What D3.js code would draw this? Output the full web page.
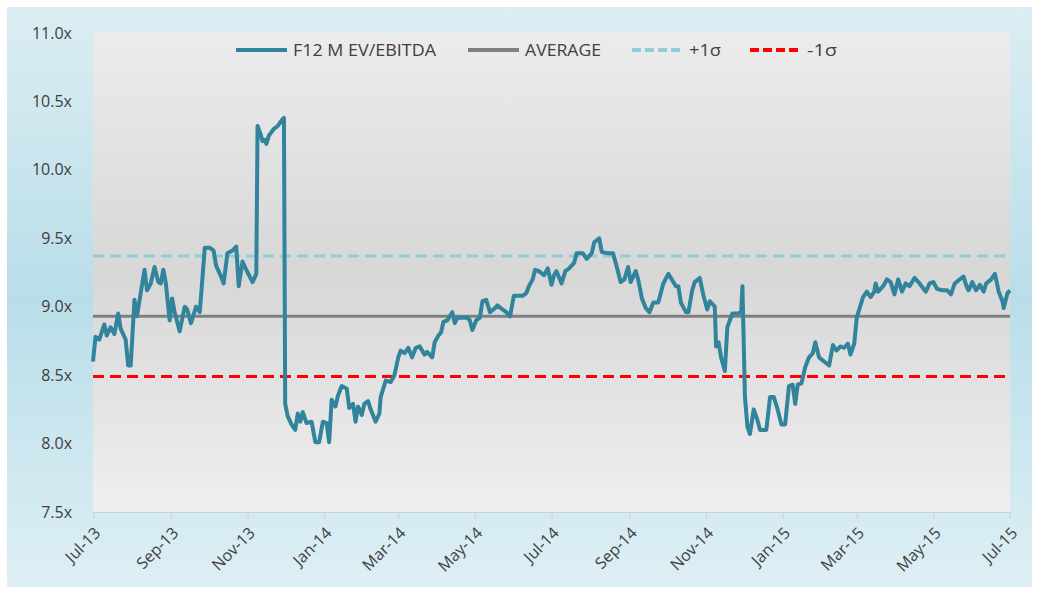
<!DOCTYPE html>
<html>
<head>
<meta charset="utf-8">
<script src="https://cdn.jsdelivr.net/npm/d3@7"></script>
<style>
  body { margin: 0; background: #fff; }
  svg { display: block; font-family: "Open Sans", sans-serif; }
</style>
</head>
<body>
<div id="chart"></div>
<script>
// F12M EV/EBITDA readings (date, multiple)
const dates = [
  "2013-07-01","2013-07-03","2013-07-06","2013-07-10","2013-07-12","2013-07-15","2013-07-18","2013-07-21","2013-07-23","2013-07-27",
  "2013-07-29","2013-07-31","2013-08-03","2013-08-05","2013-08-08","2013-08-11","2013-08-13","2013-08-16","2013-08-19","2013-08-22",
  "2013-08-24","2013-08-26","2013-08-28","2013-08-31","2013-09-02","2013-09-04","2013-09-08","2013-09-12","2013-09-14","2013-09-17",
  "2013-09-21","2013-09-24","2013-09-28","2013-10-02","2013-10-05","2013-10-07","2013-10-11","2013-10-13","2013-10-16","2013-10-20",
  "2013-10-23","2013-10-25","2013-10-28","2013-10-31","2013-11-05","2013-11-08","2013-11-09","2013-11-11","2013-11-13","2013-11-15",
  "2013-11-16","2013-11-18","2013-11-22","2013-11-25","2013-11-28","2013-11-30","2013-12-01","2013-12-03","2013-12-06","2013-12-09",
  "2013-12-11","2013-12-13","2013-12-15","2013-12-18","2013-12-22","2013-12-25","2013-12-28","2013-12-31","2014-01-03","2014-01-05",
  "2014-01-07","2014-01-10","2014-01-12","2014-01-15","2014-01-19","2014-01-21","2014-01-24","2014-01-26","2014-01-28","2014-01-31",
  "2014-02-02","2014-02-05","2014-02-07","2014-02-11","2014-02-14","2014-02-15","2014-02-19","2014-02-23","2014-02-26","2014-03-01",
  "2014-03-03","2014-03-06","2014-03-09","2014-03-12","2014-03-15","2014-03-18","2014-03-22","2014-03-24","2014-03-28","2014-03-30",
  "2014-04-02","2014-04-04","2014-04-06","2014-04-09","2014-04-13","2014-04-15","2014-04-17","2014-04-21","2014-04-25","2014-04-27",
  "2014-04-29","2014-05-02","2014-05-05","2014-05-07","2014-05-10","2014-05-13","2014-05-17","2014-05-19","2014-05-23","2014-05-26",
  "2014-05-29","2014-06-01","2014-06-04","2014-06-08","2014-06-11","2014-06-13","2014-06-16","2014-06-18","2014-06-21","2014-06-25",
  "2014-06-28","2014-07-01","2014-07-03","2014-07-05","2014-07-09","2014-07-12","2014-07-15","2014-07-19","2014-07-21","2014-07-23",
  "2014-07-26","2014-07-29","2014-08-02","2014-08-04","2014-08-08","2014-08-10","2014-08-15","2014-08-19","2014-08-22","2014-08-25",
  "2014-08-28","2014-08-31","2014-09-02","2014-09-06","2014-09-08","2014-09-11","2014-09-14","2014-09-17","2014-09-20","2014-09-24",
  "2014-09-28","2014-10-02","2014-10-06","2014-10-08","2014-10-10","2014-10-12","2014-10-16","2014-10-18","2014-10-21","2014-10-23",
  "2014-10-27","2014-10-30","2014-11-02","2014-11-04","2014-11-08","2014-11-09","2014-11-11","2014-11-13","2014-11-16","2014-11-18",
  "2014-11-22","2014-11-26","2014-11-29","2014-11-30","2014-12-02","2014-12-04","2014-12-06","2014-12-09","2014-12-12","2014-12-14",
  "2014-12-17","2014-12-19","2014-12-22","2014-12-25","2014-12-28","2014-12-31","2015-01-03","2015-01-06","2015-01-09","2015-01-11",
  "2015-01-13","2015-01-16","2015-01-19","2015-01-22","2015-01-25","2015-01-27","2015-01-30","2015-02-03","2015-02-07","2015-02-10",
  "2015-02-13","2015-02-16","2015-02-19","2015-02-22","2015-02-24","2015-02-27","2015-03-01","2015-03-03","2015-03-06","2015-03-09",
  "2015-03-12","2015-03-15","2015-03-16","2015-03-18","2015-03-22","2015-03-25","2015-03-28","2015-03-31","2015-04-03","2015-04-06",
  "2015-04-09","2015-04-12","2015-04-16","2015-04-20","2015-04-25","2015-04-28","2015-05-01","2015-05-04","2015-05-08","2015-05-12",
  "2015-05-15","2015-05-18","2015-05-22","2015-05-25","2015-05-27","2015-05-29","2015-06-01","2015-06-04","2015-06-07","2015-06-10",
  "2015-06-12","2015-06-16","2015-06-19","2015-06-22","2015-06-25","2015-06-26","2015-06-29","2015-07-01"
];
const evEbitda = [
  8.60,8.78,8.76,8.87,8.79,8.85,8.80,8.95,8.84,8.76,
  8.57,8.57,9.05,8.93,9.10,9.27,9.12,9.17,9.29,9.18,
  9.17,9.27,9.17,8.90,9.06,8.96,8.82,9.00,8.98,8.88,
  9.00,8.96,9.43,9.43,9.41,9.30,9.22,9.17,9.39,9.41,
  9.44,9.15,9.33,9.27,9.18,9.24,10.32,10.27,10.21,10.22,
  10.19,10.25,10.30,10.32,10.36,10.38,8.29,8.20,8.14,8.10,
  8.22,8.16,8.23,8.15,8.16,8.01,8.01,8.16,8.15,8.01,
  8.32,8.27,8.35,8.42,8.40,8.26,8.29,8.16,8.27,8.21,
  8.29,8.31,8.25,8.16,8.22,8.34,8.46,8.45,8.50,8.63,
  8.68,8.66,8.70,8.63,8.70,8.71,8.65,8.67,8.63,8.74,
  8.79,8.81,8.89,8.90,8.96,8.88,8.92,8.92,8.92,8.90,
  8.83,8.90,8.92,9.04,9.05,8.96,8.99,9.01,8.98,8.96,
  8.93,9.08,9.08,9.08,9.10,9.15,9.20,9.27,9.26,9.23,
  9.28,9.16,9.23,9.26,9.17,9.26,9.28,9.32,9.39,9.39,
  9.39,9.35,9.39,9.47,9.50,9.40,9.39,9.39,9.29,9.18,
  9.20,9.29,9.18,9.26,9.20,9.06,8.99,8.96,9.03,9.03,
  9.17,9.24,9.18,9.15,9.15,9.03,8.96,8.96,9.12,9.18,
  9.21,9.08,8.98,9.04,9.00,8.71,8.74,8.63,8.53,8.85,
  8.95,8.95,8.96,9.15,8.34,8.12,8.07,8.25,8.17,8.10,
  8.10,8.10,8.34,8.34,8.25,8.14,8.14,8.42,8.43,8.29,
  8.43,8.44,8.56,8.63,8.66,8.74,8.63,8.60,8.57,8.72,
  8.68,8.71,8.70,8.73,8.65,8.73,8.92,8.98,9.07,9.11,
  9.07,9.11,9.17,9.11,9.15,9.20,9.18,9.09,9.20,9.11,
  9.17,9.15,9.21,9.17,9.11,9.17,9.18,9.13,9.12,9.12,
  9.09,9.17,9.20,9.22,9.16,9.12,9.18,9.12,9.16,9.11,
  9.17,9.20,9.24,9.11,9.04,8.99,9.10,9.12
];
const average = 8.93;
const plusSigma = 9.37;
const minusSigma = 8.49;

const yTicks = [7.5, 8.0, 8.5, 9.0, 9.5, 10.0, 10.5, 11.0];
const xTicks = ["2013-07-01","2013-09-01","2013-11-01","2014-01-01","2014-03-01","2014-05-01",
                "2014-07-01","2014-09-01","2014-11-01","2015-01-01","2015-03-01","2015-05-01","2015-07-01"];
const seriesNames = ["F12 M EV/EBITDA", "AVERAGE", "+1σ", "-1σ"];

const width = 1039, height = 593;
const margin = {top: 33, right: 29, bottom: 81, left: 93};
const parse = d3.timeParse("%Y-%m-%d");
const data = dates.map((d, i) => ({date: parse(d), value: evEbitda[i]}));

const svg = d3.select("#chart").append("svg")
  .attr("width", width)
  .attr("height", height);

const defs = svg.append("defs");
const outerGrad = defs.append("linearGradient").attr("id", "outerGrad")
  .attr("x1", 0).attr("y1", 0).attr("x2", 0).attr("y2", 1);
outerGrad.append("stop").attr("offset", "0%").attr("stop-color", "#dcedf3");
outerGrad.append("stop").attr("offset", "50%").attr("stop-color", "#b9dee9");
outerGrad.append("stop").attr("offset", "100%").attr("stop-color", "#deeff5");

const plotGrad = defs.append("linearGradient").attr("id", "plotGrad")
  .attr("x1", 0).attr("y1", 0).attr("x2", 0).attr("y2", 1);
plotGrad.append("stop").attr("offset", "0%").attr("stop-color", "#ececec");
plotGrad.append("stop").attr("offset", "50%").attr("stop-color", "#d7d7d7");
plotGrad.append("stop").attr("offset", "100%").attr("stop-color", "#efefef");

// outer panel
svg.append("rect")
  .attr("x", 7).attr("y", 7)
  .attr("width", 1025).attr("height", 580)
  .attr("fill", "url(#outerGrad)");

const x = d3.scaleTime()
  .domain([parse("2013-07-01"), parse("2015-07-01")])
  .range([margin.left, width - margin.right]);
const y = d3.scaleLinear()
  .domain([7.5, 11.0])
  .range([height - margin.bottom, margin.top]);

// plot area
svg.append("rect")
  .attr("x", margin.left).attr("y", margin.top)
  .attr("width", x.range()[1] - margin.left)
  .attr("height", y(7.5) - margin.top)
  .attr("fill", "url(#plotGrad)");

// y axis labels
const yAxis = svg.append("g")
  .attr("transform", `translate(${margin.left},0)`)
  .call(d3.axisLeft(y).tickValues(yTicks).tickSize(0).tickPadding(21)
    .tickFormat(d => d3.format(".1f")(d) + "x"));
yAxis.select(".domain").remove();
yAxis.selectAll("text").attr("font-size", 16).attr("fill", "#404040")
  .attr("font-family", "'Open Sans', sans-serif");

// x axis
const xAxis = svg.append("g")
  .attr("transform", `translate(0,${y(7.5)})`)
  .call(d3.axisBottom(x).tickValues(xTicks.map(parse)).tickSize(7)
    .tickFormat(d3.timeFormat("%b-%y")));
xAxis.select(".domain").attr("stroke", "#d0d0d0");
xAxis.selectAll(".tick line").attr("stroke", "#d0d0d0");
xAxis.selectAll("text")
  .attr("font-size", 16).attr("fill", "#404040")
  .attr("font-family", "'Open Sans', sans-serif")
  .attr("text-anchor", "end")
  .attr("dy", null)
  .attr("y", 0)
  .attr("transform", "translate(8,22) rotate(-45)");

// reference lines
const refLine = (val, color, dash) => svg.append("line")
  .attr("x1", x.range()[0]).attr("x2", x.range()[1])
  .attr("y1", y(val)).attr("y2", y(val))
  .attr("stroke", color).attr("stroke-width", 3)
  .attr("stroke-dasharray", dash);

refLine(plusSigma, "#92cddc", "11,6");
refLine(minusSigma, "#ff0000", "11,6");
refLine(average, "#808080", null);

// main series
svg.append("path")
  .datum(data)
  .attr("fill", "none")
  .attr("stroke", "#31849b")
  .attr("stroke-width", 4)
  .attr("stroke-linejoin", "round")
  .attr("d", d3.line().x(d => x(d.date)).y(d => y(d.value)));

// legend
const legendItems = [
  {name: seriesNames[0], color: "#31849b", dash: null, x0: 236, w: 143},
  {name: seriesNames[1], color: "#808080", dash: null, x0: 468, w: 76},
  {name: seriesNames[2], color: "#92cddc", dash: "9,4", x0: 632, w: 32},
  {name: seriesNames[3], color: "#ff0000", dash: "9,4", x0: 750, w: 30}
];
const legend = svg.append("g");
legendItems.forEach(it => {
  legend.append("line")
    .attr("x1", it.x0).attr("x2", it.x0 + 51)
    .attr("y1", 50).attr("y2", 50)
    .attr("stroke", it.color).attr("stroke-width", 4)
    .attr("stroke-dasharray", it.dash);
  legend.append("text")
    .attr("x", it.x0 + 57).attr("y", 56)
    .attr("font-size", 17).attr("fill", "#404040")
    .attr("textLength", it.w).attr("lengthAdjust", "spacingAndGlyphs")
    .text(it.name);
});
</script>
</body>
</html>
